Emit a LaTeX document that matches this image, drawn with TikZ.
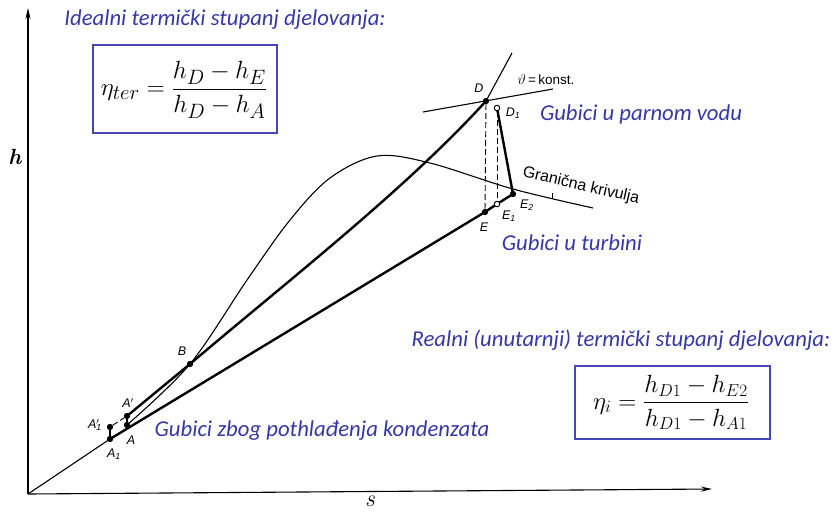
\documentclass[tikz,border=0pt]{standalone}
\usepackage{fontspec}
\usepackage{amsmath}
\usetikzlibrary{arrows.meta}
\newfontfamily\bluefont{Carlito}
\newfontfamily\lblfont{Liberation Sans}
\definecolor{bltxt}{RGB}{55,55,165}
\definecolor{blbox}{RGB}{70,70,185}
\tikzset{
  axisline/.style={line width=1.1pt,-{Stealth[length=11pt,width=5pt]}},
  thinline/.style={line width=1.1pt},
  boldline/.style={line width=2.4pt},
  dashline/.style={line width=0.9pt,dash pattern=on 6pt off 3pt},
  dotf/.style={circle,fill=black,inner sep=0pt,minimum size=6pt},
  doto/.style={circle,draw=black,fill=white,line width=0.8pt,inner sep=0pt,minimum size=5.5pt},
  bluetext/.style={text=bltxt,font=\bluefont\itshape\fontsize{22.7}{26}\selectfont,inner sep=0pt},
  lbl/.style={font=\lblfont\itshape\fontsize{12.5}{14}\selectfont,inner sep=0pt},
  formbox/.style={draw=blbox,line width=2.4pt,inner sep=0pt}
}
\begin{document}
\begin{tikzpicture}[x=1pt,y=-1pt]
\useasboundingbox (0,0) rectangle (835,515);
% key coordinates
\coordinate (O) at (28,494);
\coordinate (Ytop) at (28,8);
\coordinate (Xend) at (712,489);
\node[dotf] (A1) at (110,439) {};
\node[dotf] (A1p) at (110,427) {};
\node[dotf] (A) at (127,425) {};
\node[dotf] (Ap) at (127,416) {};
\node[dotf] (B) at (190,364) {};
\node[dotf] (D) at (486,101) {};
\node[doto] (D1) at (497,108) {};
\node[dotf] (E) at (485,212) {};
\node[doto] (E1) at (497,204) {};
\node[dotf] (E2) at (513,194) {};
\coordinate (Dtop) at (512,53);
\coordinate (T1) at (423,112);
\coordinate (T2) at (553,89);
% axes
\draw[axisline] (O) -- (Ytop);
\draw[axisline] (O) -- (Xend);
% lines
\draw[thinline] (O) -- (A1.center);
\draw[boldline] (A1.center) -- (E.center) -- (E1.center) -- (E2.center);
\draw[boldline] (D1.center) -- (E2.center);
\draw[boldline] (A1.center) -- (A1p.center);
\draw[boldline] (A.center) -- (Ap.center);
\draw[dashline] (A1p) -- (Ap);
\draw[dashline] (D) -- (E);
\draw[dashline] (D1) -- (E1);
\draw[boldline] (Ap.center) -- (B.center) .. controls (290,279) and (406,189) .. (D.center);
\draw[thinline] (D.center) -- (Dtop);
\draw[thinline] (T1) -- (T2);
\draw[thinline] plot[smooth,tension=0.55] coordinates {(127,425) (190,364) (247,280) (290,220) (330,178) (377,156) (430,163) (513,189) (593,208)};
\draw[line width=0.8pt] (552,193) -- (552,199);
% redraw dots on top
\foreach \n in {A1,A1p,A,Ap,B,D,E,E2} \fill (\n) circle (3pt);
\foreach \n in {D1,E1} \filldraw[fill=white,draw=black,line width=0.8pt] (\n) circle (2.7pt);
% point labels
\node[lbl] (lA1) at (114,454) {A\textsubscript{1}};
\node[lbl] (lA1p) at (95,425) {A\rlap{\textsuperscript{$\prime$}}\textsubscript{1}};
\node[lbl] (lA) at (131,440) {A};
\node[lbl] (lAp) at (128,403) {A$'$};
\node[lbl] (lB) at (182,351) {B};
\node[lbl] (lD) at (479,88) {D};
\node[lbl] (lD1) at (513,113) {D\textsubscript{1}};
\node[lbl] (lE) at (484,227) {E};
\node[lbl] (lE1) at (509,216) {E\textsubscript{1}};
\node[lbl] (lE2) at (527,205) {E\textsubscript{2}};
\node[font=\lblfont\fontsize{13.5}{15}\selectfont,inner sep=0pt] (lT) at (546,80) {$\vartheta$\,=\,konst.};
\node[font=\lblfont\fontsize{16}{18}\selectfont,inner sep=0pt,rotate=-13] (lG) at (581,186) {Granična krivulja};
% axis labels
\node[font=\bfseries\itshape\fontsize{22}{24}\selectfont,inner sep=0pt] (lh) at (15,157) {h};
\node[font=\itshape\fontsize{24}{24}\selectfont,inner sep=0pt] (ls) at (370,501) {s};
% blue texts
\node[bluetext] (t1) at (225,20) {Idealni termički stupanj djelovanja:};
\node[bluetext] (t2) at (641,114) {Gubici u parnom vodu};
\node[bluetext] (t3) at (572,243) {Gubici u turbini};
\node[bluetext] (t4) at (621,340) {Realni (unutarnji) termički stupanj djelovanja:};
\node[bluetext] (t5) at (322,431) {Gubici zbog pothlađenja kondenzata};
% formula boxes
\draw[formbox] (93,45) rectangle (277,133);
\node[inner sep=0pt,font=\fontsize{29}{34}\selectfont] (f1) at (184,90) {$\eta_{ter}=\dfrac{h_D-h_E}{h_D-h_A}$};
\draw[formbox] (575,366) rectangle (770,439);
\node[inner sep=0pt,font=\fontsize{26}{30}\selectfont] (f2) at (671,402.5) {$\eta_i=\dfrac{h_{D1}-h_{E2}}{h_{D1}-h_{A1}}$};
\end{tikzpicture}
\end{document}
